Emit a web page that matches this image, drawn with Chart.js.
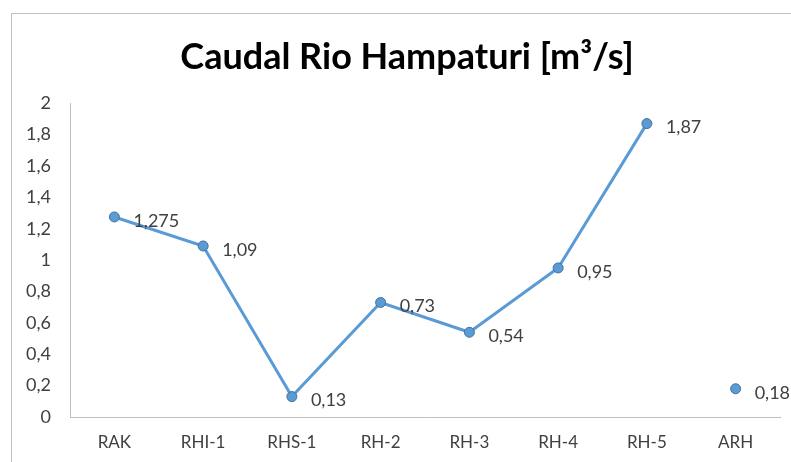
<!DOCTYPE html>
<html lang="es">
<head>
    <meta charset="UTF-8">
    <title>Caudal Rio Hampaturi</title>
    <script src="https://cdn.jsdelivr.net/npm/chart.js"></script>
    <style>
        body {
            margin: 0;
            background: #ffffff;
            font-family: 'Lato', sans-serif;
        }
        .frame {
            position: absolute;
            left: 11px;
            top: 13px;
            width: 800px;
            height: 460px;
            border-left: 1px solid #bfbfbf;
            border-top: 1px solid #bfbfbf;
        }
        .wrap {
            position: absolute;
            left: 0;
            top: 0;
            width: 791px;
            height: 462px;
        }
    </style>
</head>
<body>
    <div class="frame"></div>
    <div class="wrap"><canvas id="caudalChart"></canvas></div>

    <script>
        const stations = ["RAK", "RHI-1", "RHS-1", "RH-2", "RH-3", "RH-4", "RH-5", "ARH"];
        const caudal = [1.275, 1.09, 0.13, 0.73, 0.54, 0.95, 1.87, 0.18];
        const valueLabels = ["1,275", "1,09", "0,13", "0,73", "0,54", "0,95", "1,87", "0,18"];

        const lineColor = "#5b9bd5";
        const textColor = "#404040";

        // draws the value next to every point, Excel style
        const pointLabels = {
            id: "pointLabels",
            afterDatasetsDraw(chart) {
                const ctx = chart.ctx;
                const meta = chart.getDatasetMeta(0);
                ctx.save();
                ctx.font = "18px Lato";
                ctx.fillStyle = textColor;
                ctx.textAlign = "left";
                ctx.textBaseline = "middle";
                meta.data.forEach((pt, i) => {
                    ctx.fillText(valueLabels[i], pt.x + 19, pt.y + 4);
                });
                ctx.restore();
            }
        };

        // the title in the original sits a bit right of the canvas centre
        const titleShift = {
            id: "titleShift",
            afterLayout(chart) {
                if (chart.titleBlock) chart.titleBlock.left = 34;
            }
        };

        new Chart(document.getElementById("caudalChart"), {
            type: "line",
            data: {
                labels: stations,
                datasets: [{
                    data: caudal,
                    borderColor: lineColor,
                    borderWidth: 3,
                    pointRadius: 5,
                    pointHoverRadius: 5,
                    pointBackgroundColor: lineColor,
                    pointBorderColor: "#41719c",
                    pointBorderWidth: 1,
                    tension: 0,
                    segment: {
                        borderColor: c => c.p1DataIndex === 7 ? "transparent" : lineColor
                    }
                }]
            },
            options: {
                responsive: true,
                maintainAspectRatio: false,
                animation: false,
                layout: { padding: { left: 0, right: 11, top: 0, bottom: 0 } },
                plugins: {
                    legend: { display: false },
                    tooltip: { enabled: false },
                    title: {
                        display: true,
                        text: "Caudal Rio Hampaturi [m³/s]",
                        color: "#000000",
                        font: { family: "Lato", size: 36, weight: "bold" },
                        padding: { top: 36, bottom: 24 }
                    }
                },
                scales: {
                    x: {
                        offset: true,
                        grid: { display: false, drawTicks: false },
                        border: { display: true, color: "#bfbfbf", width: 1 },
                        ticks: {
                            color: textColor,
                            font: { family: "Lato", size: 17 },
                            padding: 15,
                            maxRotation: 0
                        },
                        afterFit: s => { s.height = 45; }
                    },
                    y: {
                        min: 0,
                        max: 2,
                        grid: { display: false, drawTicks: false },
                        border: { display: true, color: "#bfbfbf", width: 1 },
                        ticks: {
                            stepSize: 0.2,
                            color: textColor,
                            font: { family: "Lato", size: 18 },
                            padding: 19,
                            callback: v => String(Math.round(v * 10) / 10).replace(".", ",")
                        },
                        afterFit: s => { s.width = 70; }
                    }
                }
            },
            plugins: [pointLabels, titleShift]
        });
    </script>
</body>
</html>
